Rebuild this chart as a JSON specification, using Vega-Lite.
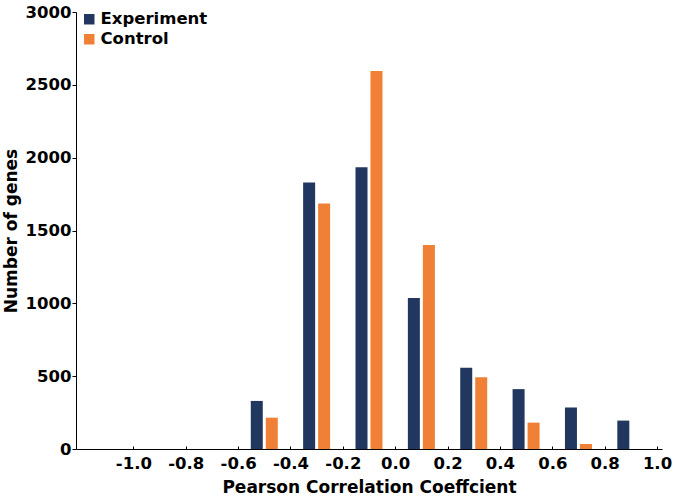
{
  "$schema": "https://vega.github.io/schema/vega-lite/v6.json",
  "autosize": "none",
  "width": 586,
  "height": 437,
  "padding": {"left": 76, "top": 12, "right": 15, "bottom": 51},
  "config": {
    "view": {"stroke": null},
    "font": "DejaVu Sans",
    "axis": {
      "grid": false,
      "domainColor": "black",
      "tickColor": "black",
      "labelColor": "black",
      "titleColor": "black",
      "labelFont": "DejaVu Sans",
      "titleFont": "DejaVu Sans",
      "labelFontWeight": "bold",
      "titleFontWeight": "bold",
      "labelFontSize": 16.5,
      "titleFontSize": 17
    }
  },
  "data": {
    "values": [
      {"r": -0.5, "series": "Experiment", "count": 330},
      {"r": -0.5, "series": "Control", "count": 215},
      {"r": -0.3, "series": "Experiment", "count": 1830},
      {"r": -0.3, "series": "Control", "count": 1685},
      {"r": -0.1, "series": "Experiment", "count": 1935},
      {"r": -0.1, "series": "Control", "count": 2595},
      {"r": 0.1, "series": "Experiment", "count": 1037},
      {"r": 0.1, "series": "Control", "count": 1400},
      {"r": 0.3, "series": "Experiment", "count": 558},
      {"r": 0.3, "series": "Control", "count": 492},
      {"r": 0.5, "series": "Experiment", "count": 411},
      {"r": 0.5, "series": "Control", "count": 181},
      {"r": 0.7, "series": "Experiment", "count": 285},
      {"r": 0.7, "series": "Control", "count": 34},
      {"r": 0.9, "series": "Experiment", "count": 195},
      {"r": 0.9, "series": "Control", "count": 0}
    ]
  },
  "encoding": {
    "x": {
      "field": "r",
      "type": "quantitative",
      "scale": {"domain": [-1.2, 1.0], "nice": false, "zero": false},
      "axis": {
        "title": "Pearson Correlation Coeffcient",
        "values": [-1.0, -0.8, -0.6, -0.4, -0.2, 0.0, 0.2, 0.4, 0.6, 0.8, 1.0],
        "labelExpr": "(datum.value < -0.001 ? '-' : '') + format(abs(datum.value), '.1f')",
        "tickSize": -3,
        "labelPadding": 9,
        "titlePadding": 8,
        "labelFlush": false
      }
    },
    "y": {
      "field": "count",
      "type": "quantitative",
      "scale": {"domain": [0, 3000], "nice": false},
      "axis": {
        "title": "Number of genes",
        "values": [0, 500, 1000, 1500, 2000, 2500, 3000],
        "format": "d",
        "tickSize": 4,
        "labelPadding": 1,
        "titlePadding": 5,
        "labelFlush": false
      }
    },
    "color": {
      "field": "series",
      "type": "nominal",
      "scale": {"domain": ["Experiment", "Control"], "range": ["#21375f", "#ef8035"]},
      "legend": {
        "title": null,
        "orient": "none",
        "legendX": 5,
        "legendY": -1,
        "padding": 0,
        "symbolType": "square",
        "symbolSize": 110,
        "symbolOpacity": 1,
        "symbolStrokeWidth": 0,
        "labelFontSize": 16.5,
        "labelFontWeight": "bold",
        "labelFont": "DejaVu Sans",
        "labelColor": "black",
        "rowPadding": 3,
        "labelOffset": 3
      }
    }
  },
  "layer": [
    {
      "transform": [{"filter": "datum.series === 'Experiment'"}],
      "mark": {"type": "bar", "width": 12, "xOffset": -7.5, "opacity": 1}
    },
    {
      "transform": [{"filter": "datum.series === 'Control'"}],
      "mark": {"type": "bar", "width": 12, "xOffset": 7.5, "opacity": 1}
    }
  ]
}
